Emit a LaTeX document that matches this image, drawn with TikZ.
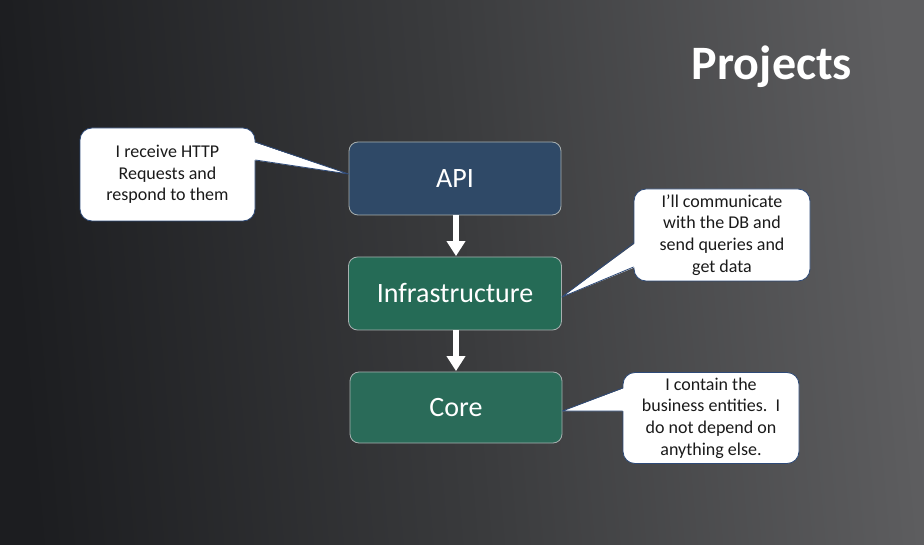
\documentclass[tikz,border=0pt]{standalone}
\usepackage{fontspec}
\setmainfont{Carlito}
\usetikzlibrary{arrows.meta,calc}
\definecolor{bgleft}{HTML}{1C1D20}
\definecolor{bgmid}{HTML}{3A3B3D}
\definecolor{bgright}{HTML}{5E5E60}
\definecolor{apiblue}{HTML}{2F4967}
\definecolor{infragreen}{HTML}{256B56}
\definecolor{coregreen}{HTML}{2A6B59}
\definecolor{boxedge}{HTML}{A8B0B0}
\definecolor{calloutedge}{HTML}{2E4A78}
\definecolor{callouttext}{HTML}{1A1A1A}
\tikzset{
  layerbox/.style={draw=boxedge, line width=0.8pt, rounded corners=9pt, text=white,
    font=\fontsize{28}{32}\selectfont, inner sep=0pt},
  callout/.style={draw=calloutedge, line width=0.8pt, fill=white, rounded corners=12pt,
    text=callouttext, align=center, inner sep=0pt,
    font=\fontsize{18}{21.6}\selectfont},
  flowarrow/.style={draw=white, line width=6pt, -{Triangle[width=18pt,length=15pt]}, shorten >=0.5pt},
  pointerfill/.style={fill=white},
  pointeredge/.style={draw=calloutedge, line width=0.8pt, line join=round},
}
\begin{document}
\begin{tikzpicture}[x=1pt,y=-1pt]
\useasboundingbox (0,0) rectangle (924,545);
\shade[left color=bgleft, right color=bgright, middle color=bgmid, shading angle=95] (0,0) rectangle (924,545);

\node[font=\bfseries\fontsize{48}{52}\selectfont, text=white, anchor=base] (title) at (772,80) {Projects};

\node[layerbox, fill=apiblue, minimum width=212pt, minimum height=73pt] (api) at (455,178.5) {API};
\node[layerbox, fill=infragreen, minimum width=213pt, minimum height=73pt] (infra) at (455,293.5) {Infrastructure};
\node[layerbox, fill=coregreen, minimum width=212pt, minimum height=71pt] (core) at (456,407.5) {Core};

\draw[flowarrow] (api.south -| 456,0) -- (infra.north -| 456,0);
\draw[flowarrow] (infra.south -| 456,0) -- (core.north -| 456,0);

% callouts
\node[callout, minimum width=175pt, minimum height=93pt] (c1) at (167.5,174.5)
  {I receive HTTP\\Requests and\\respond to them};
\node[callout, minimum width=176pt, minimum height=92pt] (c2) at (722,235)
  {I’ll communicate\\with the DB and\\send queries and\\get data};
\node[callout, minimum width=176pt, minimum height=91pt] (c3) at (711,418)
  {I contain the\\business entities.~~I\\do not depend on\\anything else.};

% pointer tips and bases
\coordinate (t1) at (api.west |- 0,174);
\coordinate (t2) at (infra.east |- 0,297);
\coordinate (t3) at (core.east |- 0,411);
\coordinate (b1a) at (c1.east |- 0,142);
\coordinate (b1b) at (c1.east |- 0,160);
\coordinate (b2a) at (c2.west |- 0,243);
\coordinate (b2b) at (c2.west |- 0,267);
\coordinate (b3a) at (c3.west |- 0,388);
\coordinate (b3b) at (c3.west |- 0,411);

\fill[pointerfill] ($(b1a)+(-2,0)$) -- (t1) -- ($(b1b)+(-2,0)$) -- cycle;
\draw[pointeredge] (b1a) -- (t1) -- (b1b);
\fill[pointerfill] ($(b2a)+(2,0)$) -- (t2) -- ($(b2b)+(2,0)$) -- cycle;
\draw[pointeredge] (b2a) -- (t2) -- (b2b);
\fill[pointerfill] ($(b3a)+(2,0)$) -- (t3) -- ($(b3b)+(2,0)$) -- cycle;
\draw[pointeredge] (b3a) -- (t3) -- (b3b);
\end{tikzpicture}
\end{document}
